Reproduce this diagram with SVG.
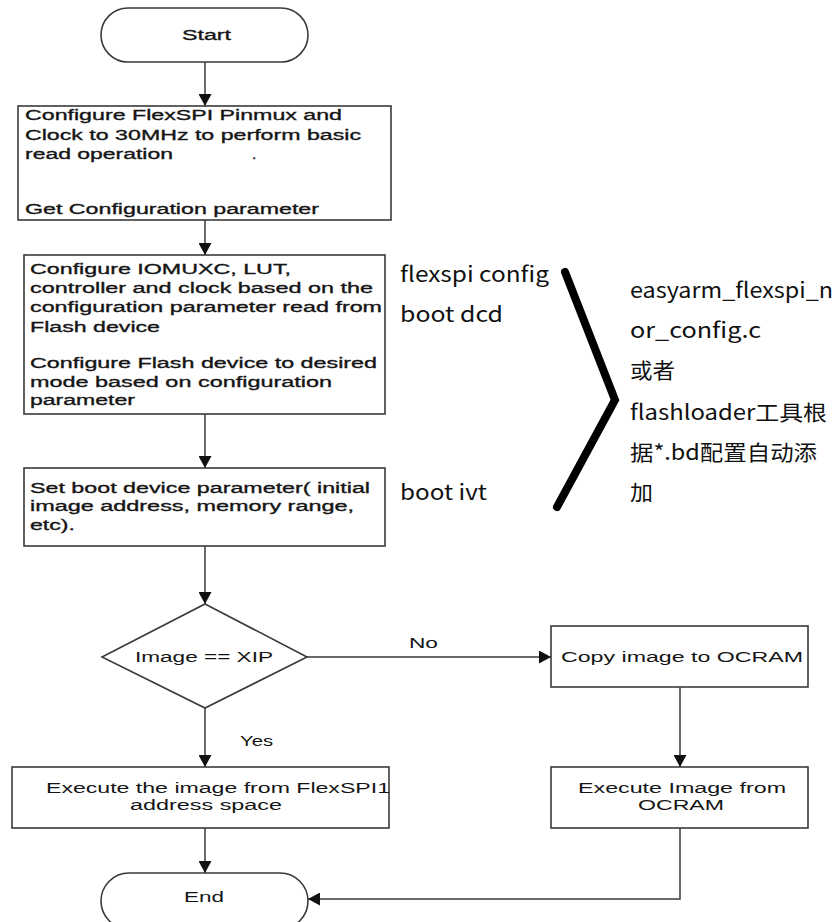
<svg xmlns="http://www.w3.org/2000/svg" width="838" height="922" viewBox="0 0 838 922">
<style>
.shape{fill:#fff;stroke:#3a3a3a;stroke-width:1.6}
.conn{fill:none;stroke:#3a3a3a;stroke-width:1.5}
.t{font-family:"Liberation Sans",Arial,sans-serif;font-size:15.5px;fill:#151515}
.tb{font-family:"Liberation Sans",Arial,sans-serif;font-size:15.5px;fill:#151515;stroke:#151515;stroke-width:0.35}
.note{font-family:"Noto Sans CJK SC","Noto Sans",sans-serif;font-size:21px;fill:#111}
</style>
<defs>
<marker id="arr" markerUnits="userSpaceOnUse" markerWidth="13" markerHeight="13" refX="12" refY="6.5" orient="auto">
<path d="M0,0 L12,6.5 L0,13 z" fill="#111"/>
</marker>
</defs>
<rect width="838" height="922" fill="#fff"/>

<g id="connectors">
<line class="conn" x1="205" y1="62" x2="205" y2="106" marker-end="url(#arr)"/>
<line class="conn" x1="205" y1="220" x2="205" y2="255" marker-end="url(#arr)"/>
<line class="conn" x1="205" y1="414" x2="205" y2="468" marker-end="url(#arr)"/>
<line class="conn" x1="205" y1="546" x2="205" y2="604" marker-end="url(#arr)"/>
<line class="conn" x1="307" y1="657" x2="551" y2="657" marker-end="url(#arr)"/>
<line class="conn" x1="205" y1="708" x2="205" y2="767" marker-end="url(#arr)"/>
<line class="conn" x1="680" y1="687" x2="680" y2="767" marker-end="url(#arr)"/>
<line class="conn" x1="205" y1="828" x2="205" y2="873" marker-end="url(#arr)"/>
<polyline class="conn" points="680,828 680,899 308,899" marker-end="url(#arr)"/>
<text class="t" x="409" y="648" textLength="29" lengthAdjust="spacingAndGlyphs">No</text>
<text class="t" x="240" y="746" textLength="33" lengthAdjust="spacingAndGlyphs">Yes</text>
</g>

<g id="start">
<rect class="shape" x="101" y="8" width="207" height="54" rx="27" ry="27"/>
<text class="tb" x="182" y="40" textLength="49" lengthAdjust="spacingAndGlyphs">Start</text>
</g>

<g id="box1">
<rect class="shape" x="18" y="106" width="373" height="114"/>
<text class="tb" x="25" y="120" textLength="317" lengthAdjust="spacingAndGlyphs">Configure FlexSPI Pinmux and</text>
<text class="tb" x="25" y="140" textLength="336" lengthAdjust="spacingAndGlyphs">Clock to 30MHz to perform basic</text>
<text class="tb" x="25" y="159" textLength="148" lengthAdjust="spacingAndGlyphs">read operation</text>
<text class="tb" x="252" y="159">.</text>
<text class="tb" x="25" y="214" textLength="294" lengthAdjust="spacingAndGlyphs">Get Configuration parameter</text>
</g>

<g id="box2">
<rect class="shape" x="24" y="255" width="361" height="159"/>
<text class="tb" x="30" y="274" textLength="261" lengthAdjust="spacingAndGlyphs">Configure IOMUXC, LUT,</text>
<text class="tb" x="30" y="293" textLength="343" lengthAdjust="spacingAndGlyphs">controller and clock based on the</text>
<text class="tb" x="30" y="312" textLength="352" lengthAdjust="spacingAndGlyphs">configuration parameter read from</text>
<text class="tb" x="30" y="332" textLength="130" lengthAdjust="spacingAndGlyphs">Flash device</text>
<text class="tb" x="30" y="368" textLength="347" lengthAdjust="spacingAndGlyphs">Configure Flash device to desired</text>
<text class="tb" x="30" y="387" textLength="302" lengthAdjust="spacingAndGlyphs">mode based on configuration</text>
<text class="tb" x="30" y="405" textLength="105" lengthAdjust="spacingAndGlyphs">parameter</text>
</g>

<g id="box3">
<rect class="shape" x="24" y="468" width="361" height="78"/>
<text class="tb" x="30" y="493" textLength="340" lengthAdjust="spacingAndGlyphs">Set boot device parameter( initial</text>
<text class="tb" x="30" y="511" textLength="324" lengthAdjust="spacingAndGlyphs">image address, memory range,</text>
<text class="tb" x="30" y="530" textLength="45" lengthAdjust="spacingAndGlyphs">etc).</text>
</g>

<g id="decision">
<polygon class="shape" points="205,604 307,657 205,708 102,657"/>
<text class="t" x="135" y="662" textLength="138" lengthAdjust="spacingAndGlyphs">Image == XIP</text>
</g>

<g id="copy">
<rect class="shape" x="551" y="626" width="257" height="61"/>
<text class="t" x="561" y="662" textLength="242" lengthAdjust="spacingAndGlyphs">Copy image to OCRAM</text>
</g>

<g id="exec-flexspi">
<rect class="shape" x="12" y="767" width="377" height="61"/>
<text class="t" x="46" y="793" textLength="344" lengthAdjust="spacingAndGlyphs">Execute the image from FlexSPI1</text>
<text class="t" x="130" y="810" textLength="152" lengthAdjust="spacingAndGlyphs">address space</text>
</g>

<g id="exec-ocram">
<rect class="shape" x="551" y="767" width="257" height="61"/>
<text class="t" x="578" y="793" textLength="208" lengthAdjust="spacingAndGlyphs">Execute Image from</text>
<text class="t" x="638" y="810" textLength="86" lengthAdjust="spacingAndGlyphs">OCRAM</text>
</g>

<g id="end">
<rect class="shape" x="101" y="873" width="207" height="56" rx="28" ry="28"/>
<text class="t" x="184" y="902" textLength="40" lengthAdjust="spacingAndGlyphs">End</text>
</g>

<g id="annotations">
<text class="note" x="400" y="282" textLength="149" lengthAdjust="spacingAndGlyphs">flexspi config</text>
<text class="note" x="400" y="322" textLength="103" lengthAdjust="spacingAndGlyphs">boot dcd</text>
<text class="note" x="400" y="500" textLength="87" lengthAdjust="spacingAndGlyphs">boot ivt</text>
<polyline points="565,272 615,400 557,507" fill="none" stroke="#000" stroke-width="8" stroke-linecap="round" stroke-linejoin="miter"/>
<text class="note" x="630" y="298" textLength="203" lengthAdjust="spacingAndGlyphs">easyarm_flexspi_n</text>
<text class="note" x="630" y="338" textLength="131" lengthAdjust="spacingAndGlyphs">or_config.c</text>
<text class="note" x="630" y="378" textLength="45" lengthAdjust="spacingAndGlyphs">或者</text>
<text class="note" x="630" y="420" textLength="197" lengthAdjust="spacingAndGlyphs">flashloader工具根</text>
<text class="note" x="630" y="460" textLength="187" lengthAdjust="spacingAndGlyphs">据*.bd配置自动添</text>
<text class="note" x="630" y="500" textLength="23" lengthAdjust="spacingAndGlyphs">加</text>
</g>
</svg>
